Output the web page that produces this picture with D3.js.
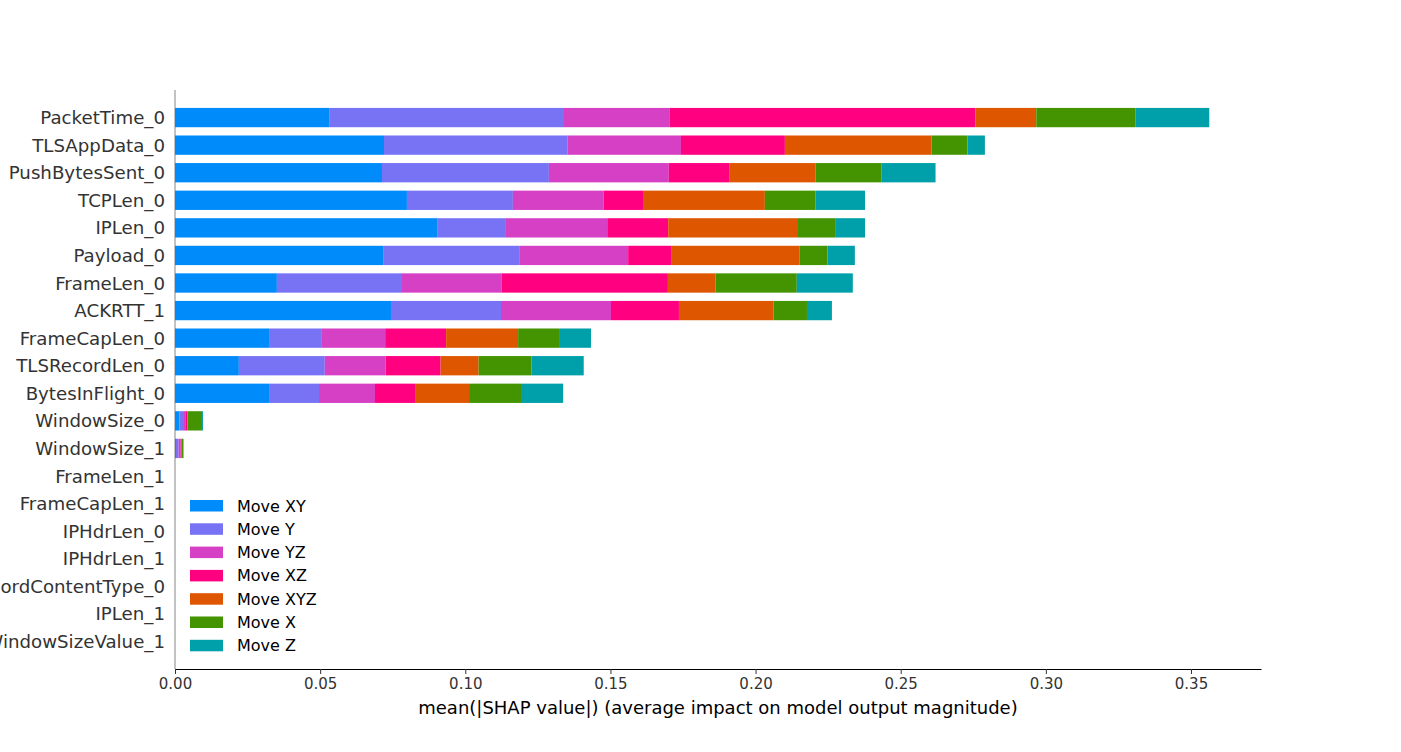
<!DOCTYPE html>
<html>
<head>
<meta charset="utf-8">
<script src="https://cdn.jsdelivr.net/npm/d3@7"></script>
<style>
  html, body { margin: 0; padding: 0; background: #fff; }
  svg { display: block; font-family: "DejaVu Sans", sans-serif; }
</style>
</head>
<body>
<svg id="chart" width="1401" height="752"></svg>
<script>
const features = ["PacketTime_0","TLSAppData_0","PushBytesSent_0","TCPLen_0","IPLen_0","Payload_0","FrameLen_0","ACKRTT_1","FrameCapLen_0","TLSRecordLen_0","BytesInFlight_0","WindowSize_0","WindowSize_1","FrameLen_1","FrameCapLen_1","IPHdrLen_0","IPHdrLen_1","TLSRecordContentType_0","IPLen_1","WindowSizeValue_1"];

const seriesNames = ["Move XY","Move Y","Move YZ","Move XZ","Move XYZ","Move X","Move Z"];
const seriesColors = ["#008bfb","#7773f4","#d640c5","#ff0080","#de5700","#439400","#00a0aa"];

const moveXY  = [0.0531,0.0720,0.0713,0.0799,0.0903,0.0717,0.0351,0.0744,0.0324,0.0220,0.0324,0.0015,0.00034,0,0,0,0,0,0,0];
const moveY   = [0.0809,0.0633,0.0575,0.0365,0.0237,0.0471,0.0431,0.0379,0.0182,0.0296,0.0172,0.0016,0.0009,0,0,0,0,0,0,0];
const moveYZ  = [0.0363,0.0390,0.0413,0.0313,0.0349,0.0373,0.0344,0.0379,0.0218,0.0210,0.0193,0.00045,0.0007,0,0,0,0,0,0,0];
const moveXZ  = [0.1054,0.0358,0.0210,0.0138,0.0210,0.0148,0.0572,0.0234,0.0210,0.0189,0.0138,0.0006,0.00034,0,0,0,0,0,0,0];
const moveXYZ = [0.0210,0.0505,0.0295,0.0417,0.0444,0.0443,0.0164,0.0326,0.0248,0.0131,0.0186,0.00024,0.0001,0,0,0,0,0,0,0];
const moveX   = [0.0341,0.0124,0.0227,0.0175,0.0131,0.0096,0.0280,0.0115,0.0141,0.0182,0.0179,0.0049,0.00045,0,0,0,0,0,0,0];
const moveZ   = [0.0255,0.0060,0.0187,0.0170,0.0103,0.0094,0.0193,0.0086,0.0110,0.0180,0.0145,0.00034,0.00014,0,0,0,0,0,0,0];

const xTicks = [0, 0.05, 0.10, 0.15, 0.20, 0.25, 0.30, 0.35];
const xLabel = "mean(|SHAP value|) (average impact on model output magnitude)";

const seriesValues = [moveXY, moveY, moveYZ, moveXZ, moveXYZ, moveX, moveZ];
const table = features.map((f, i) => {
  const row = { feature: f };
  seriesNames.forEach((s, j) => row[s] = seriesValues[j][i]);
  return row;
});
const stacked = d3.stack().keys(seriesNames)(table);
const maxTotal = d3.max(table, r => d3.sum(seriesNames, s => r[s]));

const svg = d3.select("#chart");
const plotLeft = 175, plotRight = 1261, plotTop = 90, plotBottom = 669;

const x = d3.scaleLinear().domain([0, maxTotal * 1.05]).range([plotLeft, plotRight]);
const y = d3.scaleBand().domain(features).range([plotTop, plotBottom]).paddingInner(0.3).paddingOuter(0.65);

// vertical zero line
svg.append("line")
  .attr("x1", x(0)).attr("x2", x(0))
  .attr("y1", plotTop).attr("y2", plotBottom)
  .attr("stroke", "#999999").attr("stroke-width", 1.2);

// bars
svg.append("g").selectAll("g")
  .data(stacked)
  .join("g")
  .attr("fill", (d, i) => seriesColors[i])
  .selectAll("rect")
  .data(d => d)
  .join("rect")
  .attr("x", d => x(d[0]))
  .attr("y", d => y(d.data.feature))
  .attr("width", d => Math.max(0, x(d[1]) - x(d[0])))
  .attr("height", y.bandwidth());

// y labels
svg.append("g").selectAll("text")
  .data(features)
  .join("text")
  .attr("x", plotLeft - 10)
  .attr("y", d => y(d) + y.bandwidth() / 2)
  .attr("dy", "0.36em")
  .attr("text-anchor", "end")
  .attr("font-size", "18.2px")
  .attr("fill", "#333333")
  .text(d => d);

// x axis
const xAxis = d3.axisBottom(x).tickValues(xTicks).tickFormat(d3.format(".2f")).tickSize(5).tickPadding(4).tickSizeOuter(0);
const gx = svg.append("g").attr("transform", `translate(0,${plotBottom})`).call(xAxis);
gx.select(".domain").attr("stroke", "#000").attr("stroke-width", 1.1);
gx.selectAll(".tick line").attr("stroke", "#333333");
gx.selectAll(".tick text").attr("font-size", "15px").attr("fill", "#333333").attr("font-family", "DejaVu Sans, sans-serif");

svg.append("text")
  .attr("x", (plotLeft + plotRight) / 2)
  .attr("y", 714)
  .attr("text-anchor", "middle")
  .attr("font-size", "18px")
  .attr("fill", "#000")
  .text(xLabel);

// legend
const legend = svg.append("g").selectAll("g")
  .data(seriesNames)
  .join("g")
  .attr("transform", (d, i) => `translate(190,${500 + i * 23.3})`);
legend.append("rect")
  .attr("width", 33).attr("height", 11.5)
  .attr("fill", (d, i) => seriesColors[i]);
legend.append("text")
  .attr("x", 47).attr("y", 5.8).attr("dy", "0.36em")
  .attr("font-size", "16px")
  .attr("fill", "#000")
  .text(d => d);
</script>
</body>
</html>
